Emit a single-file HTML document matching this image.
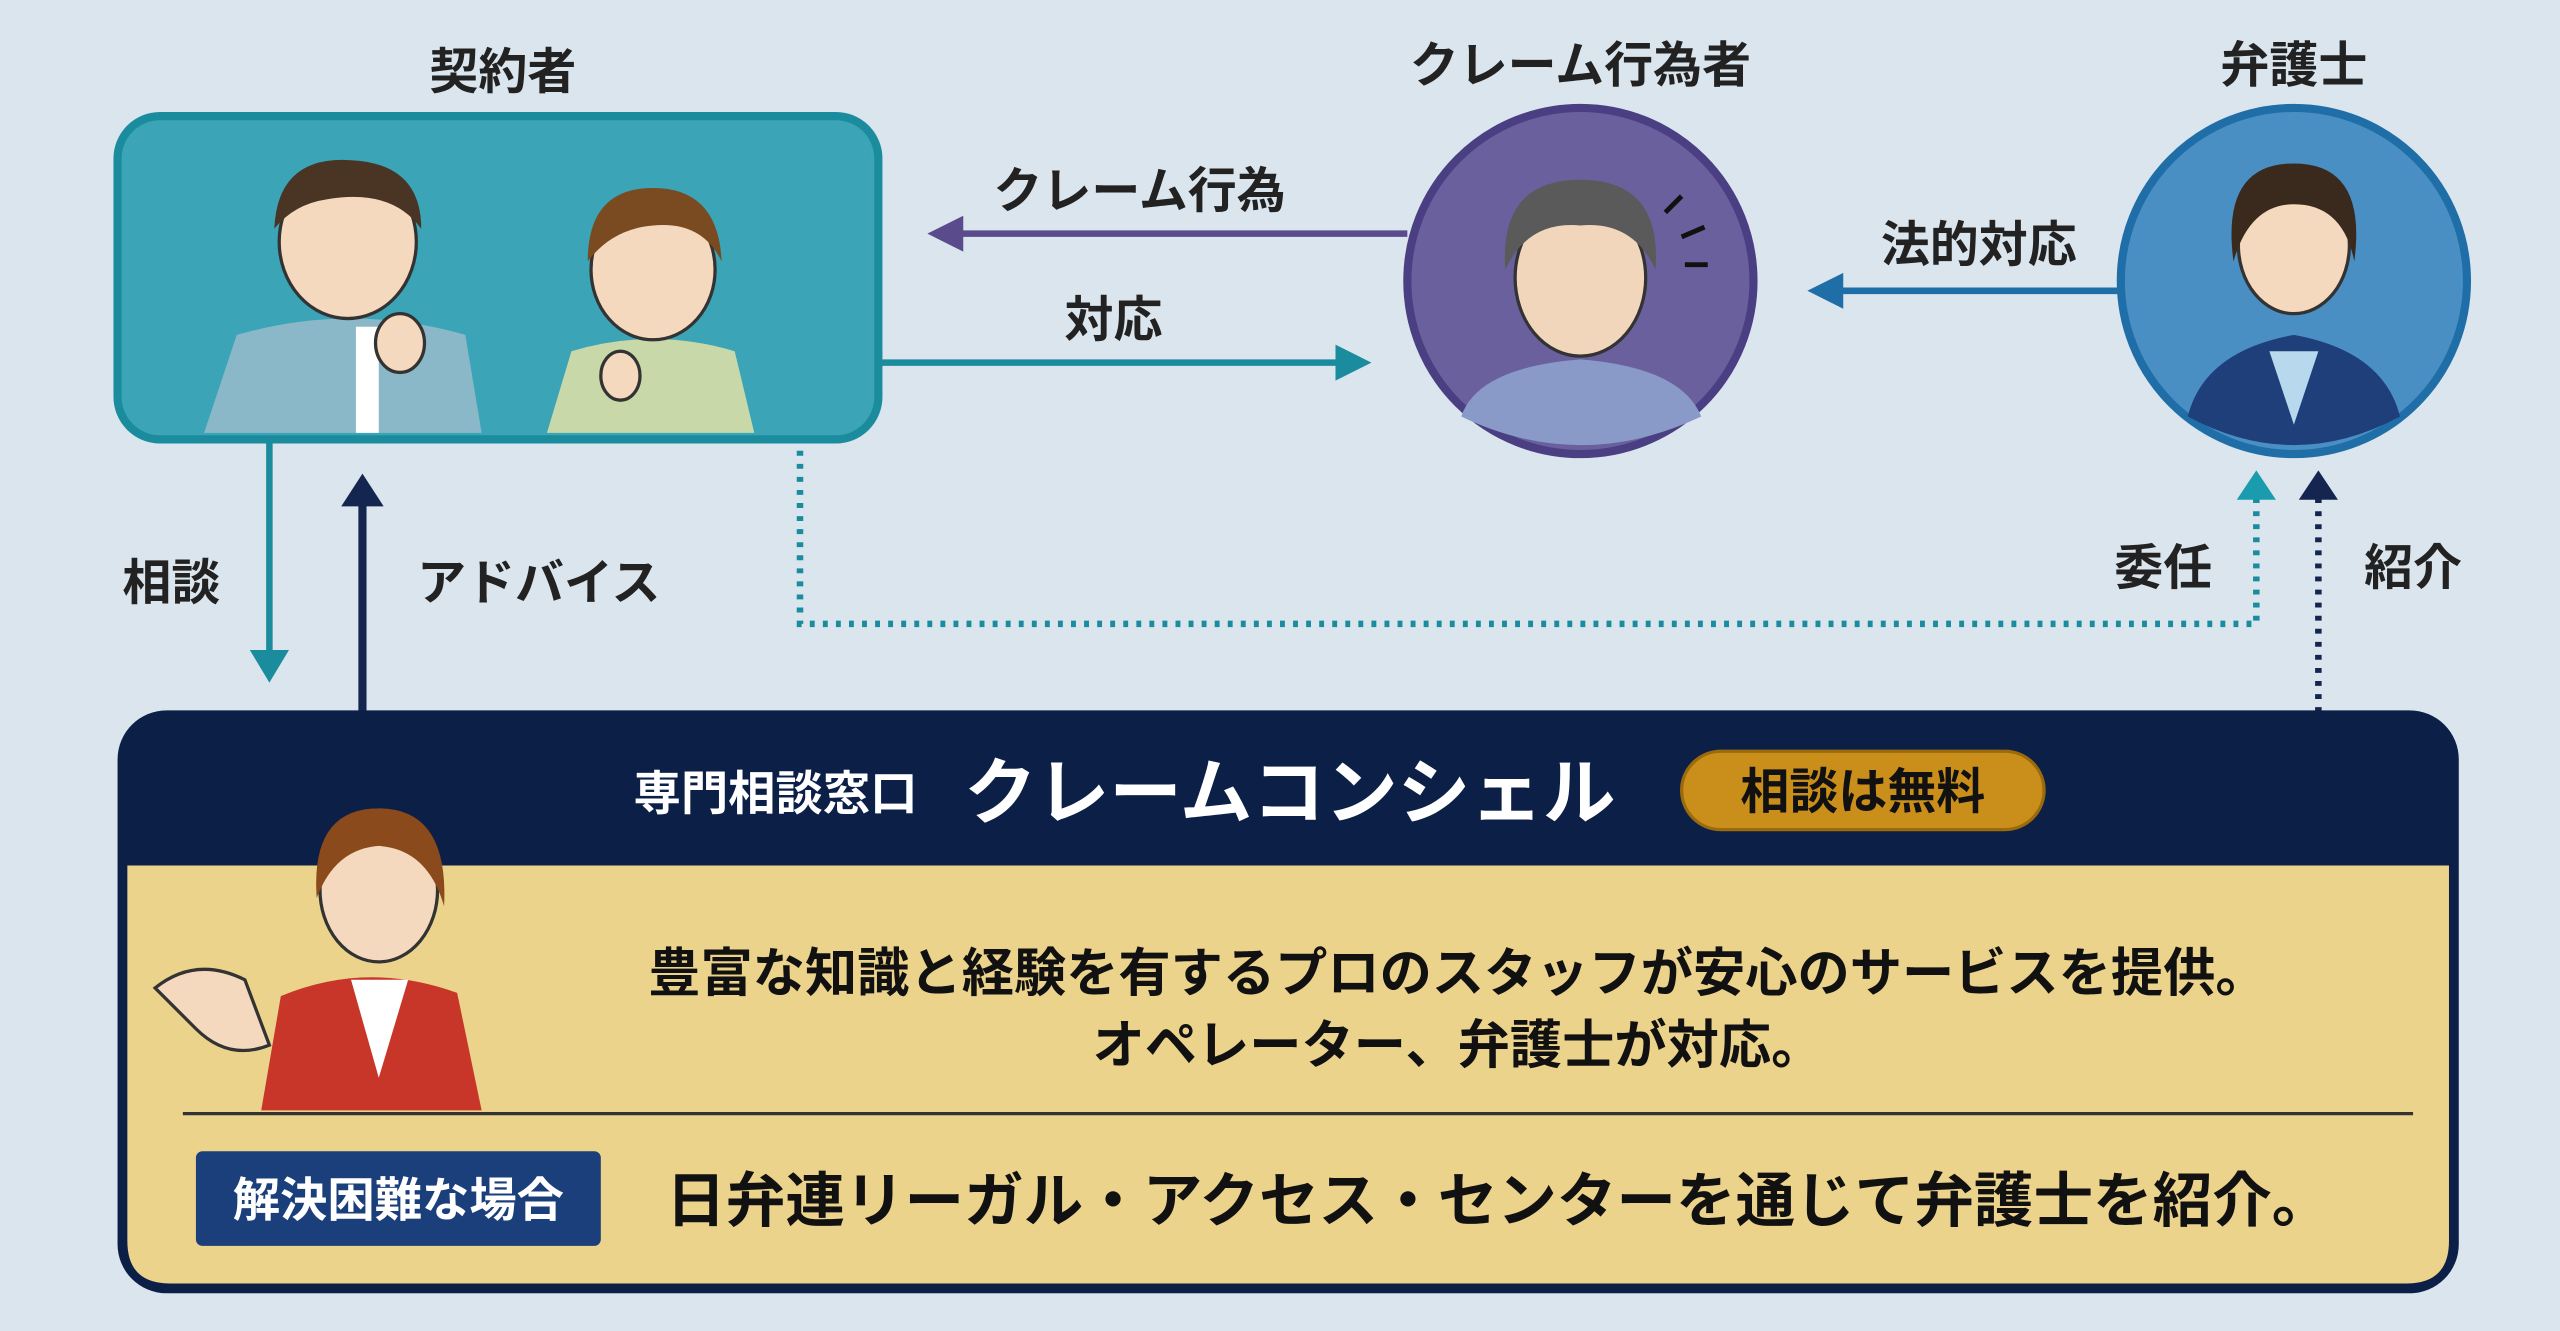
<!DOCTYPE html>
<html><head><meta charset="utf-8"><style>
html,body{margin:0;padding:0;background:#dbe5ed;}
svg{display:block}
text{font-family:"Liberation Sans","Noto Sans CJK JP",sans-serif;font-weight:bold;}
</style></head><body>
<svg width="2560" height="1331" viewBox="0 0 1568 815" xmlns="http://www.w3.org/2000/svg">
<rect width="1568" height="815" fill="#dbe5ed"/>
<!-- titles -->
<text x="308" y="54" font-size="30" text-anchor="middle" fill="#222">契約者</text>
<text x="968" y="50" font-size="30" text-anchor="middle" fill="#222">クレーム行為者</text>
<text x="1405" y="50" font-size="30" text-anchor="middle" fill="#222">弁護士</text>

<!-- contractor box -->
<rect x="72" y="71" width="466" height="198" rx="26" fill="#3ba4b6" stroke="#1b8c9e" stroke-width="5"/>
<!-- person 1 -->
<path d="M125 265 L145 205 Q215 185 285 205 L295 265 Z" fill="#8ab8c8"/>
<rect x="218" y="200" width="14" height="65" fill="#fff"/>
<ellipse cx="213" cy="148" rx="42" ry="47" fill="#f5d9be" stroke="#333" stroke-width="2"/>
<path d="M168 140 Q170 95 215 98 Q258 100 258 140 Q240 115 200 122 Q180 125 168 140Z" fill="#4a3424"/>
<ellipse cx="245" cy="210" rx="15" ry="18" fill="#f5d9be" stroke="#333" stroke-width="2"/>
<!-- person 2 -->
<path d="M335 265 L350 215 Q400 200 450 215 L462 265 Z" fill="#c8d8a8"/>
<ellipse cx="400" cy="165" rx="38" ry="43" fill="#f5d9be" stroke="#333" stroke-width="2"/>
<path d="M360 160 Q360 115 400 115 Q440 115 442 160 Q430 135 400 138 Q375 140 360 160Z" fill="#7a4a20"/>
<ellipse cx="380" cy="230" rx="12" ry="15" fill="#f5d9be" stroke="#333" stroke-width="2"/>

<!-- claimant circle -->
<circle cx="968" cy="172" r="106" fill="#6b609e" stroke="#4a3f82" stroke-width="5"/>
<path d="M895 255 Q905 225 968 220 Q1030 225 1042 255 Q968 290 895 255Z" fill="#8a9ac8"/>
<ellipse cx="968" cy="170" rx="40" ry="48" fill="#f2d6bc" stroke="#333" stroke-width="2"/>
<path d="M922 165 Q918 110 968 110 Q1018 110 1014 165 Q1000 135 968 138 Q936 135 922 165Z" fill="#5a5a5a"/>
<path d="M1020 130 l10 -10 M1030 145 l14 -6 M1032 162 l14 0" stroke="#111" stroke-width="3"/>

<!-- lawyer circle -->
<circle cx="1405" cy="172" r="106" fill="#4a8fc4" stroke="#1f6ea8" stroke-width="5"/>
<path d="M1340 255 Q1350 215 1405 205 Q1460 215 1470 255 Q1405 290 1340 255Z" fill="#1e3f7a"/>
<path d="M1390 215 L1405 260 L1420 215 Z" fill="#b8d8ee"/>
<ellipse cx="1405" cy="150" rx="34" ry="42" fill="#f5d9be" stroke="#333" stroke-width="2"/>
<path d="M1368 160 Q1360 100 1405 100 Q1450 100 1442 160 Q1435 125 1405 125 Q1378 125 1368 160Z" fill="#3a2a1e"/>

<!-- arrows -->
<line x1="862" y1="143" x2="585" y2="143" stroke="#5a4b8c" stroke-width="4"/>
<polygon points="568,143 590,132 590,154" fill="#5a4b8c"/>
<text x="698" y="127" font-size="30" text-anchor="middle" fill="#222">クレーム行為</text>

<line x1="538" y1="222" x2="822" y2="222" stroke="#1b8c9e" stroke-width="4"/>
<polygon points="840,222 818,211 818,233" fill="#1b8c9e"/>
<text x="682" y="206" font-size="30" text-anchor="middle" fill="#222">対応</text>

<line x1="1298" y1="178" x2="1125" y2="178" stroke="#1f6ea8" stroke-width="4"/>
<polygon points="1107,178 1129,167 1129,189" fill="#1f6ea8"/>
<text x="1212" y="160" font-size="30" text-anchor="middle" fill="#222">法的対応</text>

<line x1="165" y1="270" x2="165" y2="400" stroke="#1b8c9e" stroke-width="4"/>
<polygon points="165,418 153,398 177,398" fill="#1b8c9e"/>
<text x="105" y="367" font-size="30" text-anchor="middle" fill="#222">相談</text>

<line x1="222" y1="436" x2="222" y2="308" stroke="#14264f" stroke-width="5"/>
<polygon points="222,290 209,310 235,310" fill="#14264f"/>
<text x="330" y="367" font-size="30" text-anchor="middle" fill="#222">アドバイス</text>

<polyline points="490,276 490,382 1382,382 1382,305" fill="none" stroke="#1b8c9e" stroke-width="4" stroke-dasharray="3 5"/>
<polygon points="1382,288 1370,306 1394,306" fill="#1b9cae"/>
<line x1="1420" y1="436" x2="1420" y2="305" stroke="#14264f" stroke-width="4" stroke-dasharray="3 5"/>
<polygon points="1420,288 1408,306 1432,306" fill="#14264f"/>
<text x="1325" y="358" font-size="30" text-anchor="middle" fill="#222">委任</text>
<text x="1478" y="358" font-size="30" text-anchor="middle" fill="#222">紹介</text>

<!-- bottom box -->
<rect x="72" y="435" width="1434" height="357" rx="30" fill="#0b1f47"/>
<path d="M78 530 H1500 V760 Q1500 786 1474 786 H104 Q78 786 78 760 Z" fill="#ecd38c"/>
<text x="475" y="496" font-size="29" text-anchor="middle" fill="#fff">専門相談窓口</text>
<text x="790" y="501" font-size="44.5" text-anchor="middle" fill="#fff">クレームコンシェル</text>
<rect x="1030" y="460" width="222" height="48" rx="24" fill="#c98f1a" stroke="#9a6a0c" stroke-width="2"/>
<text x="1141" y="495" font-size="30" text-anchor="middle" fill="#111">相談は無料</text>

<!-- operator -->
<path d="M160 680 L172 610 Q225 588 280 608 L295 680 Z" fill="#c8362a"/>
<path d="M215 600 L232 660 L250 600 Z" fill="#fff"/>
<ellipse cx="232" cy="545" rx="36" ry="44" fill="#f5d9be" stroke="#333" stroke-width="2"/>
<path d="M194 550 Q190 495 232 495 Q275 495 272 555 Q262 520 232 518 Q205 520 194 550Z" fill="#8a4a1c"/>
<path d="M95 605 Q120 585 150 600 L165 640 Q140 650 120 630 Z" fill="#f5d9be" stroke="#333" stroke-width="2"/>

<text x="893" y="607" font-size="32" text-anchor="middle" fill="#111">豊富な知識と経験を有するプロのスタッフが安心のサービスを提供。</text>
<text x="893" y="651" font-size="32" text-anchor="middle" fill="#111">オペレーター、弁護士が対応。</text>
<line x1="112" y1="682" x2="1478" y2="682" stroke="#333" stroke-width="2"/>
<rect x="120" y="705" width="248" height="58" rx="4" fill="#1a3f7a"/>
<text x="244" y="745" font-size="29" text-anchor="middle" fill="#fff">解決困難な場合</text>
<text x="918" y="748" font-size="36.5" text-anchor="middle" fill="#111">日弁連リーガル・アクセス・センターを通じて弁護士を紹介。</text>
</svg>
</body></html>
